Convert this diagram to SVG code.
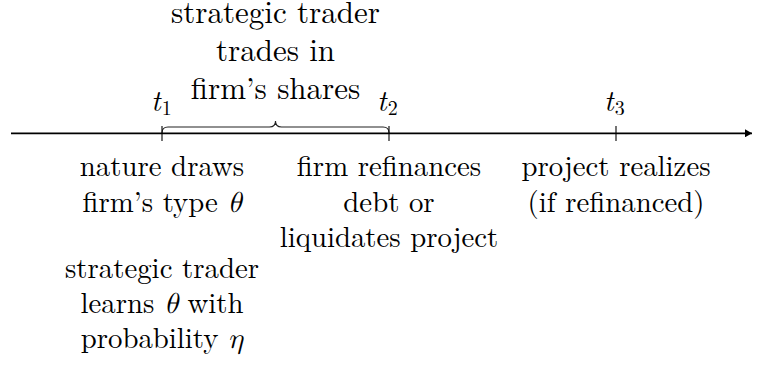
<svg xmlns="http://www.w3.org/2000/svg" width="759" height="368" viewBox="0 0 759 368">
<defs>
<style>
text{font-family:'Latin Modern Roman','CMU Serif','Liberation Serif','DejaVu Serif','Noto Serif','Tinos','Times New Roman','Times','FreeSerif',serif;fill:#000;}
.lbl{font-size:28.8px;text-anchor:middle;}
.top{font-size:31px;text-anchor:middle;}
.tl{font-size:29px;}
.it{font-style:italic;}
.gr{font-style:italic;font-family:'CMU Serif','Latin Modern Math','STIX Two Text','STIX Two Math','Latin Modern Roman','Liberation Serif','DejaVu Serif',serif;}
.sub{font-size:20px;}
.tick{stroke:#000;stroke-width:1.1;fill:none;}
.axis{stroke:#000;stroke-width:1.7;fill:none;}
.brace{stroke:#222;stroke-width:1.1;fill:none;}
</style>
<marker id="arr" markerWidth="8" markerHeight="8" refX="7" refY="4" orient="auto" markerUnits="userSpaceOnUse">
<path d="M0,0 L7,4 L0,8 Z" fill="#000"/>
</marker>
</defs>
<g id="connectors">
<line class="axis" x1="11" y1="133.3" x2="752" y2="133.3" marker-end="url(#arr)"/>
<path class="brace" d="M162,133 Q162,127 168,127 L269.5,127 Q275.5,127 275.5,121 Q275.5,127 281.5,127 L383,127 Q389,127 389,133"/>
</g>
<g id="t1">
<line class="tick" x1="162" y1="126" x2="162" y2="141"/>
<text class="tl" x="151" y="111"><tspan class="it">t</tspan><tspan class="sub" dx="1" dy="4">1</tspan></text>
</g>
<g id="t2">
<line class="tick" x1="389" y1="126" x2="389" y2="141"/>
<text class="tl" x="377" y="111"><tspan class="it">t</tspan><tspan class="sub" dx="1" dy="4">2</tspan></text>
</g>
<g id="t3">
<line class="tick" x1="616" y1="126" x2="616" y2="141"/>
<text class="tl" x="604" y="111"><tspan class="it">t</tspan><tspan class="sub" dx="1" dy="4">3</tspan></text>
</g>
<g id="trading">
<text class="top" x="275.5" y="23">strategic trader</text>
<text class="top" x="275.5" y="61">trades in</text>
<text class="top" x="275.5" y="99">firm’s shares</text>
</g>
<g id="nature">
<text class="lbl" x="162" y="176">nature draws</text>
<text class="lbl" x="162" y="211.5">firm’s type <tspan class="gr">θ</tspan></text>
</g>
<g id="learns">
<text class="lbl" x="162" y="277.5">strategic trader</text>
<text class="lbl" x="162" y="312.5">learns <tspan class="gr">θ</tspan> with</text>
<text class="lbl" x="162" y="347.5">probability <tspan class="gr">η</tspan></text>
</g>
<g id="refinance">
<text class="lbl" x="389" y="176">firm refinances</text>
<text class="lbl" x="389" y="211.5">debt or</text>
<text class="lbl" x="389" y="247">liquidates project</text>
</g>
<g id="realize">
<text class="lbl" x="616" y="176">project realizes</text>
<text class="lbl" x="616" y="211.5">(if refinanced)</text>
</g>
</svg>
